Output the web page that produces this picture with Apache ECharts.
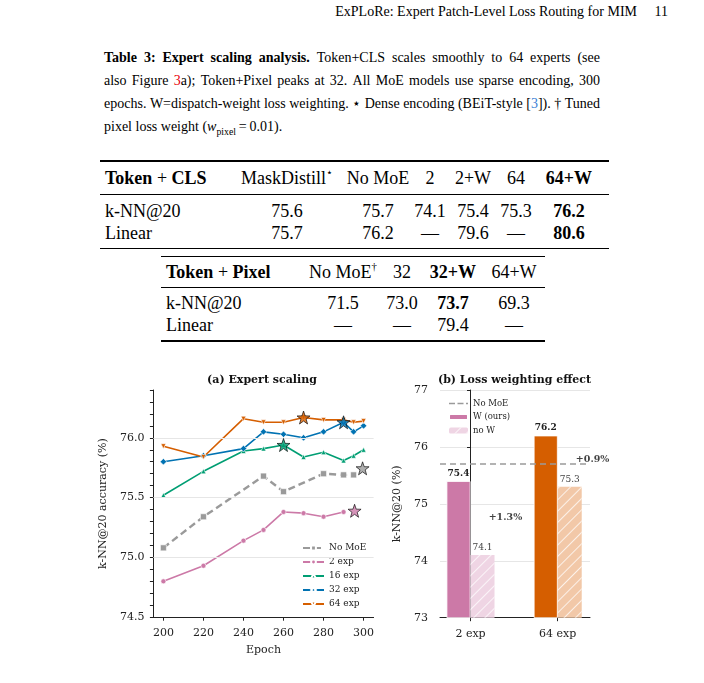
<!DOCTYPE html>
<html>
<head>
<meta charset="utf-8">
<title>Expert scaling analysis</title>
<script src="https://cdn.jsdelivr.net/npm/echarts@6.0.0/dist/echarts.min.js"></script>
<style>
  body { margin: 0; background: #fff; }
  #page { position: relative; width: 704px; height: 683px; overflow: hidden; font-family: 'Liberation Serif', serif; color: #000; }
  .abs { position: absolute; white-space: nowrap; font-size: 14px; line-height: 18px; }
  .line { position: absolute; left: 104px; width: 496px; display: flex; justify-content: space-between; font-size: 14px; line-height: 18px; white-space: nowrap; }
  .cell { position: absolute; font-size: 18px; line-height: 20px; transform: translate(-50%, -50%); white-space: nowrap; }
  .lab { transform: translate(0, -50%); }
  .rule { position: absolute; background: #000; }
  .red { color: #e8000b; }
  .blue { color: #3b7fd4; }
  sup { font-size: 0.6em; line-height: 0; vertical-align: 0.75em; }
  sub { font-size: 0.7em; line-height: 0; }
  #chartA { position: absolute; left: 90px; top: 360px; width: 300px; height: 323px; }
  #chartB { position: absolute; left: 380px; top: 360px; width: 240px; height: 323px; }
</style>
</head>
<body>
<div id="page">
  <div class="abs" style="right:67px;top:3px;">ExPLoRe: Expert Patch-Level Loss Routing for MIM</div>
  <div class="abs" style="right:36px;top:3px;">11</div>
  <div id="caption"></div>
  <div id="tables"></div>
  <div id="chartA"></div>
  <div id="chartB"></div>
</div>
<script>
// ---- caption text, one array per printed line ----
const captionLines = [
  ['<b>Table</b>', '<b>3:</b>', '<b>Expert</b>', '<b>scaling</b>', '<b>analysis.</b>', 'Token+CLS', 'scales', 'smoothly', 'to', '64', 'experts', '(see'],
  ['also', 'Figure', '<span class="red">3</span>a);', 'Token+Pixel', 'peaks', 'at', '32.', 'All', 'MoE', 'models', 'use', 'sparse', 'encoding,', '300'],
  ['epochs.', 'W=dispatch-weight', 'loss', 'weighting.', '⋆', 'Dense', 'encoding', '(BEiT-style', '[<span class="blue">3</span>]).', '†', 'Tuned'],
  ['pixel loss weight (<i>w</i><sub>pixel</sub>&thinsp;=&thinsp;0.01).']
];

// ---- table 1: Token + CLS ----
const t1Head = ['MaskDistill<sup>⋆</sup>', 'No MoE', '2', '2+W', '64', '<b>64+W</b>'];
const t1Knn = ['75.6', '75.7', '74.1', '75.4', '75.3', '<b>76.2</b>'];
const t1Linear = ['75.7', '76.2', '—', '79.6', '—', '<b>80.6</b>'];

// ---- table 2: Token + Pixel ----
const t2Head = ['No MoE<sup>†</sup>', '32', '<b>32+W</b>', '64+W'];
const t2Knn = ['71.5', '73.0', '<b>73.7</b>', '69.3'];
const t2Linear = ['—', '—', '79.4', '—'];

// ---- figure (a): k-NN@20 vs epoch ----
const epochTicks = [200, 220, 240, 260, 280, 300];
const accLabels = [74.5, 75.0, 75.5, 76.0];
const epochsNoMoe = [200, 220, 250, 260, 280, 290, 295];
const knnNoMoe = [75.08, 75.34, 75.68, 75.55, 75.70, 75.69, 75.69];
const epochs2 = [200, 220, 240, 250, 260, 270, 280, 290];
const knn2 = [74.80, 74.93, 75.14, 75.23, 75.38, 75.37, 75.34, 75.38];
const epochs16 = [200, 220, 240, 250, 260, 270, 280, 290, 295, 300];
const knn16 = [75.52, 75.72, 75.89, 75.91, 75.94, 75.84, 75.88, 75.81, 75.85, 75.90];
const epochs32 = [200, 220, 240, 250, 260, 270, 280, 290, 295, 300];
const knn32 = [75.80, 75.85, 75.91, 76.05, 76.03, 76.00, 76.05, 76.13, 76.05, 76.10];
const epochs64 = [200, 220, 240, 250, 260, 270, 280, 290, 295, 300];
const knn64 = [75.93, 75.84, 76.16, 76.13, 76.13, 76.17, 76.15, 76.15, 76.13, 76.14];
// best checkpoints (stars): 64, 32, 16, No MoE, 2
const starEpochs = [270, 290, 260, 299.5, 295.5];
const starKnn = [76.17, 76.13, 75.94, 75.745, 75.39];

// ---- figure (b): loss weighting ----
const barCats = ['2 exp', '64 exp'];
const knnW = [75.4, 76.2];
const knnNoW = [74.1, 75.3];
const noMoeKnn = 75.7;
const gainLabels = ['+1.3%', '+0.9%'];

// ---------------- page text ----------------
const capTops = [49, 72, 95, 118];
const capBox = document.getElementById('caption');
captionLines.forEach((words, i) => {
  const d = document.createElement('div');
  d.className = 'line';
  d.style.top = capTops[i] + 'px';
  d.innerHTML = words.map(w => '<span>' + w + '</span>').join('');
  capBox.appendChild(d);
});

const tables = document.getElementById('tables');
function cell (html, x, y, cls) {
  const s = document.createElement('span');
  s.className = 'cell' + (cls ? ' ' + cls : '');
  s.style.left = x + 'px';
  s.style.top = y + 'px';
  s.innerHTML = html;
  tables.appendChild(s);
}
function rule (x0, x1, y, h) {
  const r = document.createElement('div');
  r.className = 'rule';
  r.style.left = x0 + 'px';
  r.style.width = (x1 - x0) + 'px';
  r.style.top = (y - h / 2) + 'px';
  r.style.height = h + 'px';
  tables.appendChild(r);
}

const t1Cols = [287, 378, 430, 473, 516, 569];
rule(100, 609, 161, 1.6);
rule(100, 609, 194, 0.9);
rule(100, 609, 248.5, 1.6);
cell('<b>Token</b> + <b>CLS</b>', 105, 177.5, 'lab');
cell('k-NN@20', 105, 211, 'lab');
cell('Linear', 105, 233, 'lab');
t1Head.forEach((h, i) => cell(h, t1Cols[i], 177.5));
t1Knn.forEach((v, i) => cell(v, t1Cols[i], 211));
t1Linear.forEach((v, i) => cell(v, t1Cols[i], 233));

const t2Cols = [343, 402, 453, 514];
rule(161, 545, 256.5, 1.6);
rule(161, 545, 287.5, 0.9);
rule(161, 545, 341, 1.6);
cell('<b>Token</b> + <b>Pixel</b>', 166, 271.5, 'lab');
cell('k-NN@20', 166, 303, 'lab');
cell('Linear', 166, 325, 'lab');
t2Head.forEach((h, i) => cell(h, t2Cols[i], 271.5));
t2Knn.forEach((v, i) => cell(v, t2Cols[i], 303));
t2Linear.forEach((v, i) => cell(v, t2Cols[i], 325));

// ---------------- charts ----------------
const FONT = 'DejaVu Serif';
const INK = '#222';
const pink = '#CC79A7';
const green = '#009E73';
const blue = '#0072B2';
const orange = '#D55E00';
const grey = '#9a9a9a';
const starPath = 'path://M0,-10L2.35,-3.24L9.51,-3.09L3.8,1.24L5.88,8.09L0,4L-5.88,8.09L-3.8,1.24L-9.51,-3.09L-2.35,-3.24Z';
// dashed-line legend key (three filled dashes, aspect kept)
const dashIcon = 'path://M0,0h6v1.6h-6z M8.5,0h6v1.6h-6z M17,0h2v1.6h-2z';
const pts = (xs, ys) => xs.map((x, i) => [x, ys[i]]);

function lineSeries (name, xs, ys, color, symbol, size, lineExtra, more) {
  return Object.assign({
    name: name,
    type: 'line',
    data: pts(xs, ys),
    symbol: symbol,
    symbolSize: size,
    lineStyle: Object.assign({ color: color, width: 1.6 }, lineExtra),
    itemStyle: { color: color, borderColor: '#fff', borderWidth: 0.6 },
    emphasis: { disabled: true },
    z: 3
  }, more || {});
}

const axisCommon = {
  axisLine: { show: true, lineStyle: { color: INK, width: 1 } },
  axisTick: { show: true, length: 3.5, lineStyle: { color: INK, width: 1 } },
  nameTextStyle: { fontFamily: FONT, fontSize: 11, color: INK },
  splitLine: { show: false }
};

const chartA = echarts.init(document.getElementById('chartA'));
chartA.setOption({
  animation: false,
  textStyle: { fontFamily: FONT },
  grid: { left: 60, top: 30, width: 223.6, height: 227.2 },
  graphic: [{
    type: 'text', x: 172, y: 20,
    style: { text: '(a) Expert scaling', font: 'bold 11px "DejaVu Serif"', fill: '#111', align: 'center', verticalAlign: 'middle' }
  }],
  xAxis: Object.assign({}, axisCommon, {
    type: 'value', min: 195, max: 305,
    name: 'Epoch', nameLocation: 'middle', nameGap: 27,
    axisTick: { show: true, length: 3.5, customValues: epochTicks, lineStyle: { color: INK } },
    axisLabel: { customValues: epochTicks, fontFamily: FONT, fontSize: 11, color: INK, margin: 10 }
  }),
  yAxis: Object.assign({}, axisCommon, {
    type: 'value', min: 74.5, max: 76.4, interval: 0.1,
    name: 'k-NN@20 accuracy (%)', nameLocation: 'middle', nameGap: 43,
    axisLabel: {
      fontFamily: FONT, fontSize: 11, color: INK, margin: 9,
      formatter: v => accLabels.some(a => Math.abs(a - v) < 1e-6) ? v.toFixed(1) : ''
    }
  }),
  legend: {
    data: ['No MoE', '2 exp', '16 exp', '32 exp', '64 exp'],
    orient: 'vertical', left: 208, top: 180,
    itemWidth: 21, itemHeight: 6, itemGap: 4,
    padding: [3, 4, 3, 4],
    backgroundColor: 'rgba(255,255,255,0.9)',
    selectedMode: false,
    textStyle: { fontFamily: FONT, fontSize: 9, color: INK, lineHeight: 10 }
  },
  series: [
    {
      type: 'line', data: [], silent: true, z: 1,
      markLine: {
        silent: true, symbol: 'none', label: { show: false },
        lineStyle: { color: '#e6e6e6', type: 'solid', width: 1 },
        data: accLabels.slice(1).map(v => ({ yAxis: v }))
      }
    },
    lineSeries('No MoE', epochsNoMoe, knnNoMoe, grey, 'rect', 6, { type: [7, 4], width: 2.4 }),
    lineSeries('2 exp', epochs2, knn2, pink, 'circle', 5),
    lineSeries('16 exp', epochs16, knn16, green, 'triangle', 5),
    lineSeries('32 exp', epochs32, knn32, blue, 'diamond', 6.5),
    lineSeries('64 exp', epochs64, knn64, orange, 'triangle', 5, {}, { symbolRotate: 180 }),
    {
      type: 'scatter', z: 5, symbol: starPath, symbolSize: 13,
      itemStyle: { borderColor: '#000', borderWidth: 0.8 },
      data: pts(starEpochs, starKnn).map((p, i) => ({
        value: p, itemStyle: { color: [orange, blue, green, grey, pink][i] }
      }))
    }
  ]
});

const wColors = [pink, orange];
const noWColors = ['#EFD5E4', '#F2C8A8'];
const hatch = {
  symbol: 'rect', symbolSize: 1, dashArrayX: [1, 0], dashArrayY: [1, 7],
  rotation: -Math.PI / 4, color: 'rgba(255,255,255,0.75)'
};
const barX = barCats.map((c, i) => i);

const chartB = echarts.init(document.getElementById('chartB'));
chartB.setOption({
  animation: false,
  textStyle: { fontFamily: FONT },
  grid: { left: 60, top: 30, width: 150, height: 227.7 },
  graphic: [{
    type: 'text', x: 134.5, y: 20,
    style: { text: '(b) Loss weighting effect', font: 'bold 11px "DejaVu Serif"', fill: '#111', align: 'center', verticalAlign: 'middle' }
  }],
  xAxis: Object.assign({}, axisCommon, {
    type: 'value', min: -0.35, max: 1.37,
    axisTick: { show: true, length: 3.5, customValues: barX, lineStyle: { color: INK } },
    axisLabel: {
      customValues: barX, fontFamily: FONT, fontSize: 11, color: INK, margin: 11,
      formatter: v => barCats[Math.round(v)]
    }
  }),
  yAxis: Object.assign({}, axisCommon, {
    type: 'value', min: 73, max: 77, interval: 1,
    name: 'k-NN@20 (%)', nameLocation: 'middle', nameGap: 34,
    axisLabel: { fontFamily: FONT, fontSize: 11, color: INK, margin: 12 },
    splitLine: { show: true, lineStyle: { color: '#e6e6e6', width: 1 } }
  }),
  legend: {
    data: [{ name: 'No MoE', icon: dashIcon, itemStyle: { color: grey } }, 'W (ours)', 'no W'],
    orient: 'vertical', left: 66, top: 37,
    itemWidth: 19, itemHeight: 6, itemGap: 4.5, padding: 2,
    selectedMode: false,
    textStyle: { fontFamily: FONT, fontSize: 8.5, color: INK, lineHeight: 9 }
  },
  series: [
    {
      name: 'No MoE', type: 'line', data: [], symbol: 'none', z: 4,
      lineStyle: { color: grey, type: [6, 4], width: 1.6 },
      itemStyle: { color: grey },
      markLine: {
        silent: true, symbol: 'none', label: { show: false },
        lineStyle: { color: grey, type: [6, 4], width: 1.6 },
        data: [{ yAxis: noMoeKnn }]
      }
    },
    {
      name: 'W (ours)', type: 'bar', barWidth: 24, barGap: '0%', z: 2,
      itemStyle: { color: pink, borderColor: '#fff', borderWidth: 0.8 },
      label: {
        show: true, position: 'top', distance: 3,
        fontFamily: FONT, fontSize: 9, fontWeight: 'bold', color: INK,
        formatter: p => p.value[1].toFixed(1)
      },
      data: barX.map((x, i) => ({ value: [x, knnW[i]], itemStyle: { color: wColors[i] } }))
    },
    {
      name: 'no W', type: 'bar', barWidth: 24, barGap: '0%', z: 2,
      itemStyle: { color: noWColors[0], decal: hatch },
      label: {
        show: true, position: 'top', distance: 3,
        fontFamily: FONT, fontSize: 9, color: '#444',
        formatter: p => p.value[1].toFixed(1)
      },
      data: barX.map((x, i) => ({ value: [x, knnNoW[i]], itemStyle: { color: noWColors[i], decal: hatch } }))
    },
    {
      type: 'scatter', symbolSize: 0, clip: false, z: 6, silent: true,
      label: {
        show: true, position: 'inside',
        fontFamily: FONT, fontSize: 9.5, fontWeight: 'bold', color: '#111',
        formatter: p => gainLabels[p.dataIndex]
      },
      data: [[0.4, 74.76], [1.4, 75.77]]
    }
  ]
});
</script>
</body>
</html>
